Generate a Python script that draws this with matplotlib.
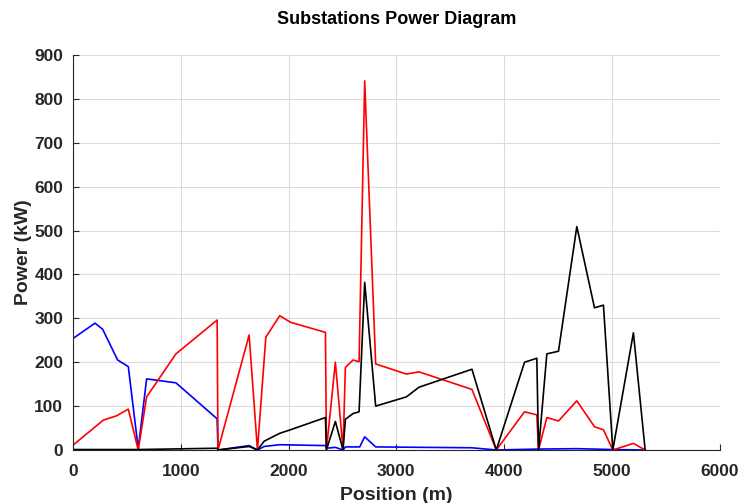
import matplotlib
matplotlib.use("Agg")
import matplotlib.pyplot as plt

# datos
pos_azul = [0, 204, 275, 414, 513, 605, 683, 955, 1337, 1345, 1634, 1711, 1773, 1918,
            2342, 2351, 2434, 2505, 2527, 2660, 2706, 2808, 3700, 3927, 4300, 4674, 5008, 5308]
pot_azul = [254, 289, 275, 205, 190, 3, 162, 153, 71, 0, 10, 0, 8, 12,
            10, 4, 6, 0, 7, 7, 30, 7, 5, 0, 2, 3, 1, 0]

pos_rojo = [0, 281, 405, 513, 605, 683, 955, 1337, 1345, 1634, 1711, 1789, 1918, 2017,
            2342, 2351, 2434, 2505, 2527, 2598, 2654, 2706, 2808, 3093, 3210, 3701, 3927,
            4189, 4303, 4319, 4396, 4504, 4674, 4838, 4921, 5008, 5199, 5308]
pot_rojo = [11, 68, 78, 93, 0, 121, 219, 296, 0, 262, 0, 257, 306, 291,
            268, 0, 200, 0, 188, 205, 201, 841, 196, 173, 178, 138, 0,
            87, 80, 0, 74, 66, 112, 53, 46, 0, 15, 0]

pos_negro = [0, 605, 1337, 1345, 1634, 1711, 1773, 1918, 2017, 2342, 2351, 2434, 2505,
             2527, 2598, 2654, 2706, 2808, 3093, 3210, 3701, 3927, 4189, 4303, 4319,
             4396, 4504, 4674, 4838, 4921, 5008, 5199, 5308]
pot_negro = [1, 1, 4, 0, 8, 0, 20, 38, 46, 74, 0, 65, 0,
             70, 83, 87, 382, 100, 121, 143, 184, 0, 200, 209, 0,
             219, 225, 509, 324, 330, 0, 267, 0]

xticks = [0, 1000, 2000, 3000, 4000, 5000, 6000]
yticks = [0, 100, 200, 300, 400, 500, 600, 700, 800, 900]

plt.rcParams['font.family'] = ['Liberation Sans', 'DejaVu Sans']

fig = plt.figure(figsize=(7.42, 5.03), dpi=100)
ax = fig.add_axes([0.0984, 0.1054, 0.8716, 0.7853])

ax.plot(pos_azul, pot_azul, color='#0000ff', lw=1.2)
ax.plot(pos_rojo, pot_rojo, color='#ff0000', lw=1.2)
ax.plot(pos_negro, pot_negro, color='black', lw=1.2)

ax.set_xlim(0, 6000)
ax.set_ylim(0, 900)
ax.set_xticks(xticks)
ax.set_yticks(yticks)
ax.grid(True, color='#dcdcdc', lw=0.8)
ax.set_axisbelow(True)

for lado in ['top', 'right']:
    ax.spines[lado].set_visible(False)
for lado in ['left', 'bottom']:
    ax.spines[lado].set_color('#262626')
    ax.spines[lado].set_linewidth(0.8)

ax.tick_params(direction='in', length=4, colors='#262626', labelsize=12.5)
ax.tick_params(axis='x', pad=10)
ax.tick_params(axis='y', pad=7)
for t in ax.get_xticklabels() + ax.get_yticklabels():
    t.set_fontweight('bold')

ax.set_xlabel('Position (m)', fontsize=14, fontweight='bold', color='#262626', labelpad=6)
ax.set_ylabel('Power (kW)', fontsize=14, fontweight='bold', color='#262626', labelpad=2)
ax.set_title('Substations Power Diagram', fontsize=13, fontweight='bold', pad=22)

fig.savefig('out.png', dpi=100)
